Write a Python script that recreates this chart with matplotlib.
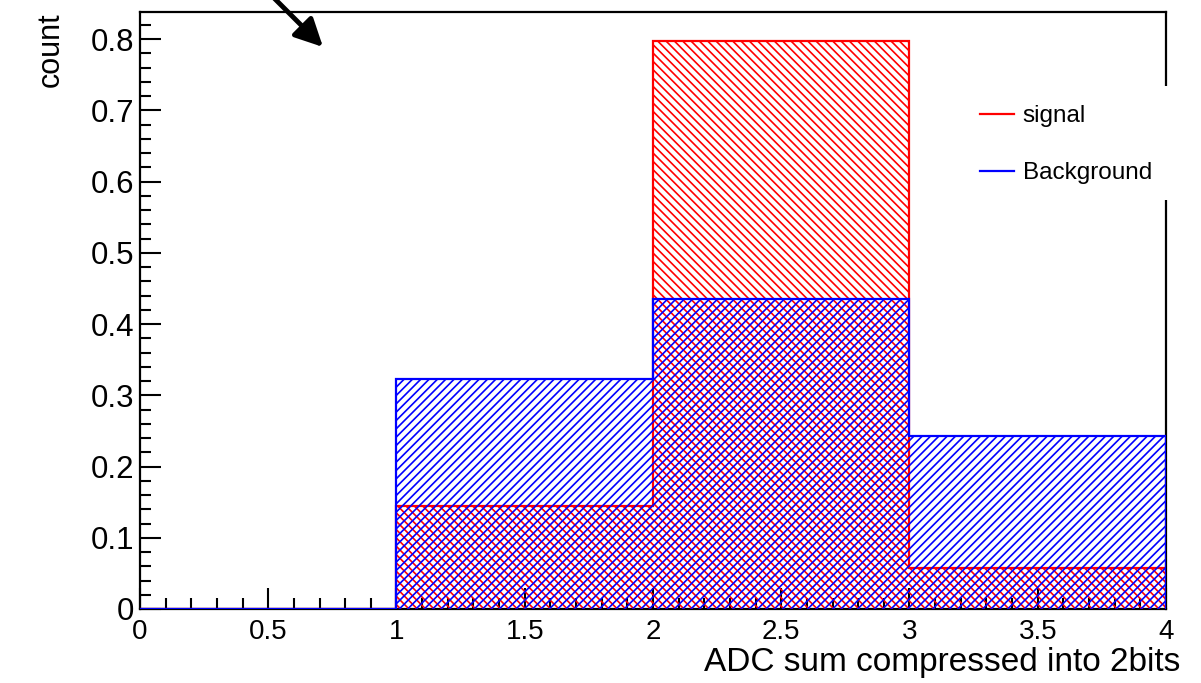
import matplotlib
matplotlib.use("Agg")
import matplotlib.pyplot as plt
from matplotlib.lines import Line2D
from matplotlib.patches import Rectangle
from matplotlib.ticker import MultipleLocator, AutoMinorLocator

# histogram contents (normalised), 4 bins over 0..4
bin_edges = [0, 1, 2, 3, 4]
signal = [0.0, 0.145, 0.797, 0.058]
background = [0.0, 0.323, 0.435, 0.243]

x_label = "ADC sum compressed into 2bits"
y_label = "count"

plt.rcParams['font.family'] = ['Liberation Sans', 'DejaVu Sans']
plt.rcParams['hatch.linewidth'] = 1.2

fig = plt.figure(figsize=(12.01, 6.83), dpi=100)
W, H = 1201, 683
ax = fig.add_axes([140 / W, (H - 609) / H, (1166 - 140) / W, (609 - 12) / H])

# signal (red, \\\ hatch) and background (blue, /// hatch)
ax.stairs(signal, bin_edges, baseline=0, fill=True, facecolor='none',
          edgecolor='#ff0000', hatch='\\\\\\\\', linewidth=1.6, zorder=3)
ax.stairs(background, bin_edges, baseline=0, fill=True, facecolor='none',
          edgecolor='#0000ff', hatch='////', linewidth=1.6, zorder=3)

ax.set_xlim(0, 4)
ax.set_ylim(0, 0.838)
ax.xaxis.set_major_locator(MultipleLocator(0.5))
ax.xaxis.set_minor_locator(AutoMinorLocator(5))
ax.yaxis.set_major_locator(MultipleLocator(0.1))
ax.yaxis.set_minor_locator(AutoMinorLocator(5))
ax.xaxis.set_major_formatter(plt.FuncFormatter(lambda v, p: '%g' % v))
ax.yaxis.set_major_formatter(plt.FuncFormatter(lambda v, p: '%g' % round(v, 2)))

ax.tick_params(which='both', direction='in', top=False, right=False, width=1.5)
ax.tick_params(which='major', length=15)
ax.tick_params(which='minor', length=8)
ax.tick_params(axis='x', which='major', pad=7.5, labelsize=20)
ax.tick_params(axis='y', which='major', pad=4, labelsize=22.5)
for s in ax.spines.values():
    s.set_linewidth(1.6)

ax.set_xlabel(x_label, loc='right', fontsize=24)
ax.xaxis.set_label_coords(1.0136, -0.064)
ax.set_ylabel(y_label, loc='top', fontsize=22)
ax.yaxis.set_label_coords(-0.072, 1.0)

# white legend box that covers part of the right frame
ax.add_patch(Rectangle((962 / W, (H - 200) / H), (1175 - 962) / W, 114 / H,
                       transform=fig.transFigure, facecolor='white',
                       edgecolor='none', clip_on=False, zorder=4))
handles = [Line2D([], [], color='#ff0000', lw=1.6),
           Line2D([], [], color='#0000ff', lw=1.6)]
leg = ax.legend(handles, ['signal', 'Background'], loc='upper left',
                bbox_to_anchor=(980 / W, 1 - 105 / H),
                bbox_transform=fig.transFigure, frameon=False, fontsize=17.5,
                handlelength=1.4, handletextpad=0.35, labelspacing=1.45,
                borderpad=0, borderaxespad=0)
leg.set_zorder(5)

# arrow at top-left
ax.annotate('', xy=(323, H - 47), xytext=(268, H + 8),
            xycoords='figure pixels', textcoords='figure pixels',
            arrowprops=dict(arrowstyle='-|>', color='black', lw=3.5,
                            mutation_scale=42, shrinkA=0, shrinkB=0),
            annotation_clip=False)

fig.savefig("out.png", dpi=100)
